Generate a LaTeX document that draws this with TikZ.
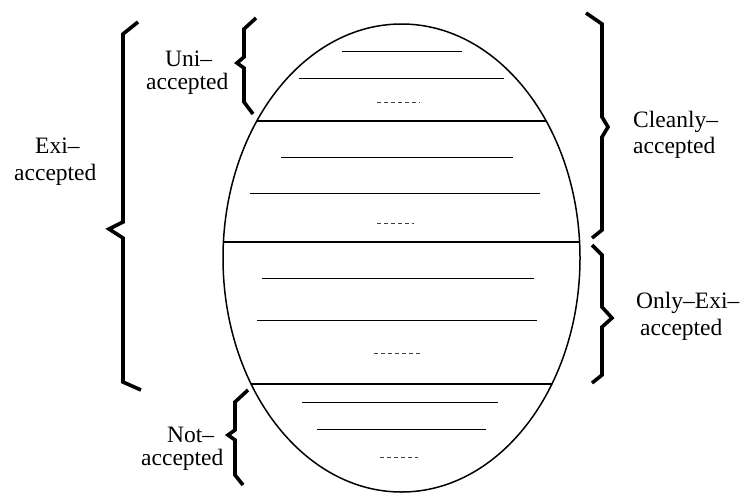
\documentclass[tikz,border=0pt]{standalone}
\usepackage{fontspec}
\setmainfont{Liberation Serif}
\begin{document}
\begin{tikzpicture}[x=1pt,y=-1pt,
  bracestyle/.style={line width=3.6pt,line join=miter,line cap=butt},
  chord/.style={line width=1.7pt},
  rule/.style={line width=0.9pt},
  dots/.style={line width=0.8pt,black!75,dash pattern=on 4pt off 3pt},
  lbl/.style={anchor=base west,inner sep=0pt,font=\fontsize{23.5}{23.5}\selectfont}]
\useasboundingbox (0,0) rectangle (744,493);
% ellipse
\draw[line width=1.5pt] (401.5,258) ellipse [x radius=178.5, y radius=234];
% chords
\draw[chord] (256.8,121) -- (546.2,121);
\draw[chord] (223.4,242) -- (579.6,242);
\draw[chord] (251.1,384) -- (551.9,384);
% section 1
\draw[rule] (342,51) -- (462,51);
\draw[rule] (299,78) -- (504,78);
\draw[dots] (377,102) -- (420,102);
% section 2
\draw[rule] (281,157) -- (513,157);
\draw[rule] (250,193) -- (540,193);
\draw[dots] (377,223) -- (414,223);
% section 3
\draw[rule] (262,278) -- (534,278);
\draw[rule] (257,320) -- (537,320);
\draw[dots] (374,353) -- (420,353);
% section 4
\draw[rule] (302,402) -- (498,402);
\draw[rule] (317,429) -- (486,429);
\draw[dots] (380,457) -- (418,457);
% braces
\draw[bracestyle] (256,18) -- (244,29) -- (244,57) -- (237,63) -- (244,68) -- (244,102) -- (253,114);
\draw[bracestyle] (138,22) -- (123,34) -- (123,222) -- (109,229) -- (123,238) -- (123,382) -- (141,390);
\draw[bracestyle] (586,13) -- (602,24) -- (602,117) -- (608,127) -- (602,137) -- (602,230) -- (592,238);
\draw[bracestyle] (592,245) -- (602,255) -- (602,307) -- (612,318) -- (602,327) -- (602,375) -- (592,383);
\draw[bracestyle] (248,390) -- (235,402) -- (235,430) -- (228,435) -- (235,440) -- (235,475) -- (243,485);
% labels
\node[lbl] (uniA) at (165,66) {Uni–};
\node[lbl] (uniB) at (146,89) {accepted};
\node[lbl] (exiA) at (35,153) {Exi–};
\node[lbl] (exiB) at (14,180) {accepted};
\node[lbl] (clA) at (633,127) {Cleanly–};
\node[lbl] (clB) at (633,153) {accepted};
\node[lbl] (onA) at (636,308) {Only–Exi–};
\node[lbl] (onB) at (640,335) {accepted};
\node[lbl] (notA) at (167,442) {Not–};
\node[lbl] (notB) at (141,465) {accepted};
\end{tikzpicture}
\end{document}
